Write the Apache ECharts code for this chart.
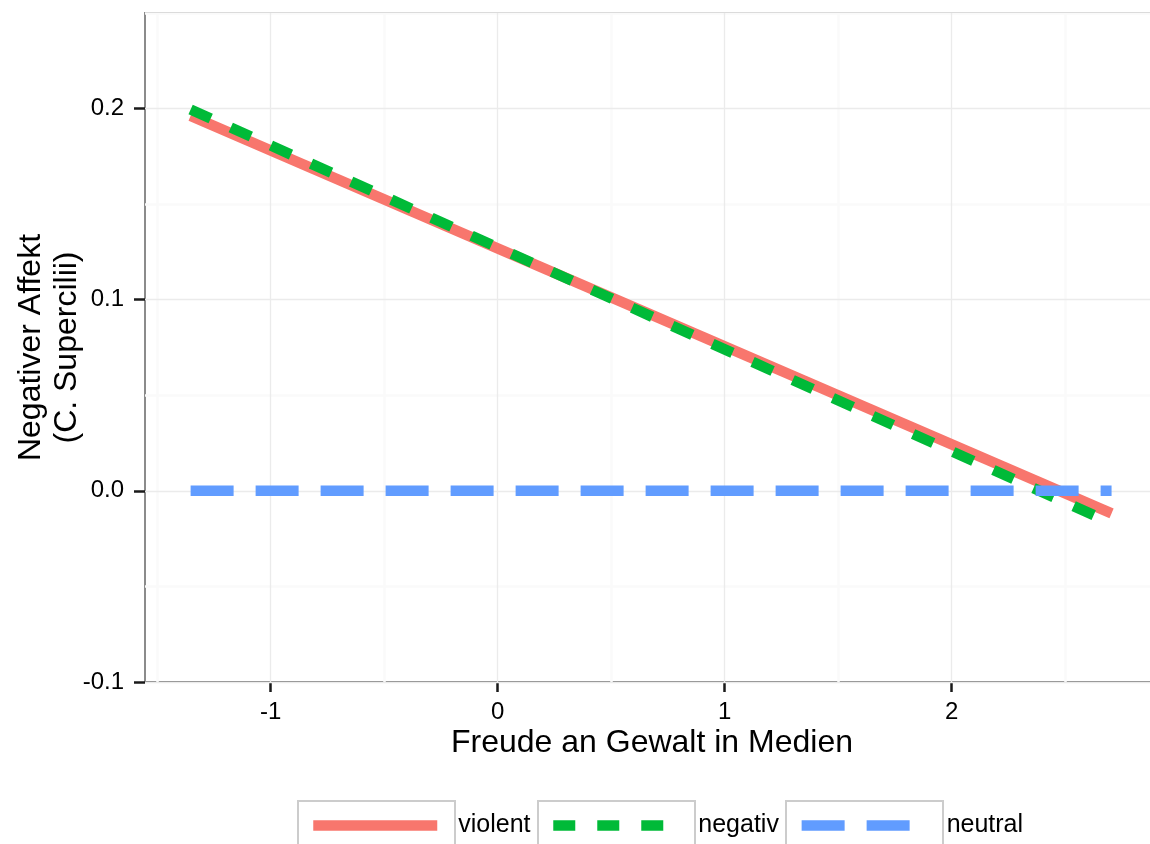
<!DOCTYPE html>
<html>
<head>
<meta charset="utf-8">
<script src="https://cdn.jsdelivr.net/npm/echarts@6/dist/echarts.min.js"></script>
<style>
html,body{margin:0;padding:0;background:#fff;}
#chart{width:1150px;height:844px;}
</style>
</head>
<body>
<div id="chart"></div>
<script>
// ---- data ----
const seriesNames = ['violent', 'negativ', 'neutral'];
const lineX = [-1.353, 2.705];
const violentY = [0.1962, -0.0118];
const negativY = [0.1995, -0.0169];
const neutralY = [0.0, 0.0];
const xTicks = [-1, 0, 1, 2];
const yTicks = [-0.1, 0.0, 0.1, 0.2];
const xMinorGrid = [-1.5, -0.5, 0.5, 1.5, 2.5];
const yMinorGrid = [-0.05, 0.05, 0.15, 0.25];
const xRange = [-1.554, 2.914];
const yRange = [-0.1, 0.25];
const xTitle = 'Freude an Gewalt in Medien';
const yTitle = 'Negativer Affekt\n(C. Supercilii)';

// ---- styles ----
const FONT = 'Liberation Sans';
const colors = ['#F8766D', '#00BA38', '#619CFF'];
const dashes = ['solid', [22, 22], [43, 22]];
const LW = 10.5;

function pairs(xs, ys) { return xs.map((x, i) => [x, ys[i]]); }
const values = [violentY, negativY, neutralY];

const majorStyle = {color: '#ebebeb', width: 1.3, type: 'solid'};
const minorStyle = {color: '#fafafa', width: 2.6, type: 'solid'};
const gridLines = []
  .concat(xMinorGrid.map(v => ({xAxis: v, lineStyle: minorStyle})))
  .concat(yMinorGrid.map(v => ({yAxis: v, lineStyle: minorStyle})))
  .concat(xTicks.map(v => ({xAxis: v, lineStyle: majorStyle})))
  .concat(yTicks.map(v => ({yAxis: v, lineStyle: majorStyle})));

const series = [{
  type: 'line', name: '__grid', data: [], z: 1, silent: true,
  markLine: {silent: true, z: 1, symbol: ['none', 'none'], label: {show: false},
    animation: false, data: gridLines}
}].concat(seriesNames.map((n, i) => ({
  type: 'line', name: n, data: pairs(lineX, values[i]), z: 2 + i,
  symbol: 'none', showSymbol: false, animation: false,
  lineStyle: {color: colors[i], width: LW, type: dashes[i], cap: 'butt'},
  itemStyle: {color: colors[i]}
})));

const chart = echarts.init(document.getElementById('chart'), null, {renderer: 'canvas'});
chart.setOption({
  backgroundColor: '#fff',
  animation: false,
  grid: {left: 145, top: 13, width: 1014, height: 669, show: true,
    borderColor: '#7f7f7f', borderWidth: 1.8, backgroundColor: '#fff',
    containLabel: false, outerBoundsMode: 'none'},
  xAxis: {
    type: 'value', min: xRange[0], max: xRange[1],
    axisLine: {show: false, onZero: false},
    axisTick: {show: true, customValues: xTicks, length: 10, lineStyle: {color: '#1a1a1a', width: 2.5}},
    axisLabel: {customValues: xTicks, margin: 18, fontSize: 24, fontFamily: FONT, color: '#000',
      formatter: v => String(v)},
    splitLine: {show: false},
    name: xTitle, nameLocation: 'middle', nameGap: 45, nameMoveOverlap: false,
    nameTextStyle: {fontSize: 32, fontFamily: FONT, color: '#000'}
  },
  yAxis: {
    type: 'value', min: yRange[0], max: yRange[1],
    axisLine: {show: false, onZero: false},
    axisTick: {show: true, customValues: yTicks, length: 11, lineStyle: {color: '#1a1a1a', width: 2.5}},
    axisLabel: {customValues: yTicks, margin: 21, fontSize: 24, fontFamily: FONT, color: '#000',
      formatter: v => v.toFixed(1)},
    splitLine: {show: false},
    name: yTitle, nameLocation: 'middle', nameGap: 60, nameRotate: 90, nameMoveOverlap: false,
    nameTextStyle: {fontSize: 32, fontFamily: FONT, color: '#000', lineHeight: 36, align: 'center'}
  },
  legend: {
    data: seriesNames, orient: 'horizontal', left: 303, top: 808,
    itemWidth: 124, itemHeight: 10, itemGap: 17.5, selectedMode: false,
    lineStyle: {width: LW},
    itemStyle: {opacity: 0},
    textStyle: {fontSize: 25, fontFamily: FONT, color: '#000', padding: [0, 0, 0, 16]}
  },
  graphic: [
    {type: 'rect', left: 297, top: 800, shape: {width: 157, height: 50}, z: -1,
      style: {fill: '#fff', stroke: '#cccccc', lineWidth: 2}},
    {type: 'rect', left: 537, top: 800, shape: {width: 157, height: 50}, z: -1,
      style: {fill: '#fff', stroke: '#cccccc', lineWidth: 2}},
    {type: 'rect', left: 785, top: 800, shape: {width: 157, height: 50}, z: -1,
      style: {fill: '#fff', stroke: '#cccccc', lineWidth: 2}}
  ],
  series: series
});
</script>
</body>
</html>
